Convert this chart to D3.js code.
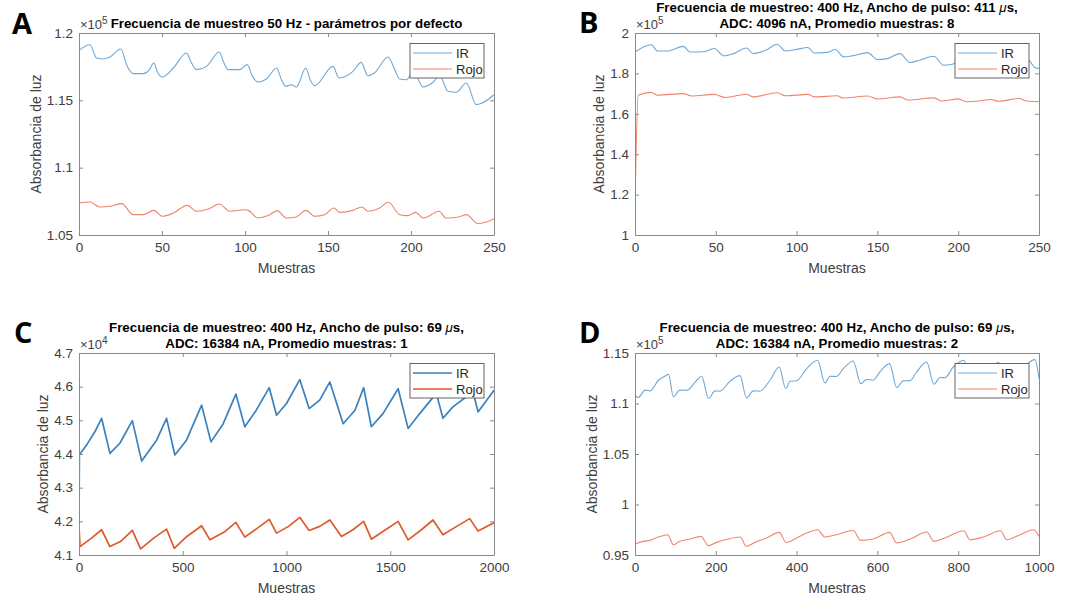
<!DOCTYPE html>
<html>
<head>
<meta charset="utf-8">
<script src="https://cdn.jsdelivr.net/npm/d3@7"></script>
<style>
  body { margin: 0; background: #fff; }
  text { font-family: "Liberation Sans", Arial, sans-serif; }
</style>
</head>
<body>
<svg id="fig" width="1077" height="598"></svg>
<script>
// ---- data (sample, value in units of the exponent) ----

// A: 50 Hz, default parameters
var irA = [[0,1.1871],[6.6,1.1913],[10.6,1.1814],[14.6,1.1807],[18.7,1.1822],[25.1,1.1881],[29.1,1.1752],
  [32.7,1.1698],[38.7,1.1698],[42.1,1.1723],[45.1,1.1777],[47.1,1.1715],[50.2,1.1673],[56.8,1.174],
  [64.8,1.1851],[67.8,1.1777],[70.8,1.1728],[76.8,1.1752],[84.5,1.1859],[86.9,1.1790],[89.9,1.1728],
  [96.9,1.1728],[101.3,1.1765],[104.5,1.1678],[107.9,1.1636],[112.9,1.1658],[119,1.174],[122,1.1653],
  [124.6,1.1604],[128,1.1616],[131,1.1599],[136.6,1.174],[139.4,1.1650],[142,1.1609],[153,1.1752],
  [156.6,1.1666],[165,1.1715],[170,1.1782],[174,1.1683],[178,1.1703],[186.2,1.1822],[190.2,1.1728],
  [193.2,1.1658],[197.2,1.1653],[201.8,1.1723],[204.9,1.1641],[207.3,1.1599],[213.3,1.1634],
  [217.3,1.1683],[222.3,1.1567],[227.3,1.156],[233.3,1.1629],[239.4,1.1468],[250,1.1542]];
var redA = [[0,1.0738],[6.6,1.0745],[12.6,1.0708],[18.7,1.0713],[25.7,1.0733],[32.7,1.0651],[38.7,1.0651],
  [45.1,1.0683],[50.2,1.0639],[56.8,1.0663],[65.2,1.072],[70.8,1.0676],[77.9,1.0693],[84.5,1.073],
  [90.9,1.0676],[100,1.0688],[102,1.0683],[107.9,1.0626],[114,1.0644],[119.4,1.0681],[125,1.0626],
  [131,1.0634],[136.6,1.0683],[142,1.0639],[148,1.0650],[153.5,1.07],[157,1.0668],[165,1.0683],
  [170.5,1.0708],[174,1.0676],[181,1.0700],[186.4,1.0743],[193.2,1.0651],[198,1.0644],[202.8,1.0668],
  [207.3,1.0626],[217,1.0676],[221,1.0626],[229,1.0634],[233.3,1.0651],[240.4,1.0584],[250,1.0619]];

// B: 400 Hz, 411 us, 4096 nA, avg 8
var irB = [[0,1.906],[10,1.942],[14,1.911],[20,1.911],[30,1.934],[34,1.906],[42,1.907],[49,1.923],
  [55,1.887],[61,1.898],[69,1.926],[73,1.898],[81,1.915],[88,1.944],[93,1.911],[100,1.919],[107,1.928],
  [111,1.901],[119,1.904],[124,1.918],[129,1.882],[135,1.888],[144,1.903],[150,1.868],[156,1.873],
  [164,1.898],[170,1.854],[176,1.865],[185,1.885],[191,1.84],[196,1.844],[204,1.878],[210,1.842],
  [216,1.850],[224,1.875],[229,1.838],[235,1.845],[243,1.868],[247.5,1.829],[250,1.824]];
var redB = [[0,1.155],[2,1.692],[10,1.706],[14,1.692],[30,1.70],[35,1.688],[49,1.696],[56,1.681],
  [69,1.697],[73,1.684],[88,1.704],[93,1.689],[107,1.696],[111,1.684],[125,1.689],[129,1.678],
  [144,1.688],[150,1.673],[164,1.684],[169,1.668],[185,1.679],[190,1.663],[200,1.674],[205,1.66],
  [213,1.663],[220,1.671],[225,1.662],[238,1.676],[242,1.663],[250,1.66]];

// C: 400 Hz, 69 us, 16384 nA, avg 1
var irC = [[0,4.20],[2,4.40],[5,4.40],[40,4.43],[80,4.47],[109,4.506],[149,4.402],[197,4.432],[257,4.499],
  [302,4.379],[374,4.441],[422,4.506],[462,4.397],[518,4.441],[591,4.545],[636,4.436],[695,4.49],
  [756,4.578],[799,4.481],[855,4.531],[917,4.597],[952,4.515],[1000,4.55],[1064,4.621],[1109,4.535],
  [1160,4.56],[1209,4.614],[1273,4.49],[1330,4.53],[1372,4.597],[1409,4.481],[1465,4.52],[1538,4.594],
  [1586,4.476],[1642,4.52],[1722,4.58],[1754,4.506],[1802,4.54],[1899,4.585],[1923,4.525],[2000,4.589]];
var redC = [[0,4.185],[5,4.125],[60,4.150],[109,4.175],[149,4.125],[200,4.140],[257,4.173],[297,4.118],
  [360,4.150],[422,4.177],[459,4.12],[520,4.155],[591,4.187],[631,4.145],[700,4.168],[756,4.197],
  [799,4.153],[860,4.180],[917,4.206],[952,4.165],[1010,4.185],[1064,4.212],[1109,4.173],[1160,4.185],
  [1209,4.204],[1265,4.155],[1320,4.175],[1372,4.2],[1409,4.147],[1470,4.172],[1538,4.2],[1586,4.145],
  [1650,4.175],[1706,4.204],[1754,4.16],[1820,4.185],[1883,4.208],[1923,4.171],[2000,4.196]];

// D: 400 Hz, 69 us, 16384 nA, avg 2
var irD = [[2,1.1076],[8,1.1059],[25,1.1132],[37,1.1125],[58,1.123],[78,1.128],[83,1.129],[95,1.1066],
  [111,1.1132],[128,1.1130],[153,1.123],[165,1.127],[182,1.105],[198,1.1125],[210,1.1122],[235,1.122],
  [260,1.1276],[276,1.1056],[293,1.1125],[309,1.1122],[334,1.123],[357,1.1362],[373,1.1148],
  [384,1.122],[400,1.1225],[425,1.1345],[452,1.1428],[470,1.1204],[483,1.127],[499,1.1268],
  [516,1.1345],[540,1.1421],[559,1.1197],[573,1.1237],[590,1.1232],[606,1.1312],[630,1.1395],
  [648,1.1158],[664,1.1224],[681,1.1226],[697,1.1312],[722,1.1411],[740,1.1191],[755,1.1257],
  [767,1.1255],[788,1.1362],[814,1.1428],[832,1.1195],[850,1.1250],[875,1.1340],[900,1.1405],
  [918,1.1200],[940,1.1260],[965,1.1370],[990,1.1434],[1000,1.1247]];
var redD = [[2,0.9612],[21,0.9635],[37,0.9645],[58,0.9678],[81,0.9701],[95,0.9602],[111,0.9635],
  [136,0.9658],[163,0.9684],[182,0.9592],[202,0.9625],[231,0.9658],[260,0.9678],[276,0.9586],
  [297,0.9625],[326,0.9668],[357,0.9724],[374,0.9625],[400,0.9668],[425,0.9717],[452,0.975],
  [470,0.9678],[499,0.9701],[540,0.9743],[559,0.9645],[590,0.9658],[630,0.9724],[648,0.9619],
  [681,0.9658],[722,0.9727],[740,0.9635],[767,0.9668],[814,0.974],[829,0.9651],[862,0.9678],
  [905,0.974],[920,0.9651],[953,0.9701],[986,0.975],[1000,0.9684]];

// tick values
var xTicksA = [0, 50, 100, 150, 200, 250];
var yTicksA = [1.05, 1.1, 1.15, 1.2];
var xTicksB = [0, 50, 100, 150, 200, 250];
var yTicksB = [1, 1.2, 1.4, 1.6, 1.8, 2];
var xTicksC = [0, 500, 1000, 1500, 2000];
var yTicksC = [4.1, 4.2, 4.3, 4.4, 4.5, 4.6, 4.7];
var xTicksD = [0, 200, 400, 600, 800, 1000];
var yTicksD = [0.95, 1, 1.05, 1.1, 1.15];

var titleA = [["Frecuencia de muestreo 50 Hz - parámetros por defecto"]];
var titleB = [["Frecuencia de muestreo: 400 Hz, Ancho de pulso: 411 ", "μ", "s,"], ["ADC: 4096 nA, Promedio muestras: 8"]];
var titleC = [["Frecuencia de muestreo: 400 Hz, Ancho de pulso: 69 ", "μ", "s,"], ["ADC: 16384 nA, Promedio muestras: 1"]];
var titleD = [["Frecuencia de muestreo: 400 Hz, Ancho de pulso: 69 ", "μ", "s,"], ["ADC: 16384 nA, Promedio muestras: 2"]];

var seriesNames = ["IR", "Rojo"];

// ---- layout ----
var panels = [
  {letter: "A", lx: 12, ly: 34, x0: 79, x1: 494, y0: 33, y1: 235, xDom: [0, 250], yDom: [1.05, 1.2],
   xTicks: xTicksA, yTicks: yTicksA, exp: "5", title: titleA, titleY: [28], ylabOff: 38,
   ir: irA, red: redA, irColor: "#6ea8d8", redColor: "#f0846b", sw: 1.1, curve: d3.curveMonotoneX},
  {letter: "B", lx: 579, ly: 33, x0: 635, x1: 1039, y0: 33, y1: 235, xDom: [0, 250], yDom: [1, 2],
   xTicks: xTicksB, yTicks: yTicksB, exp: "5", title: titleB, titleY: [11.5, 28], ylabOff: 31,
   ir: irB, red: redB, irColor: "#6ea8d8", redColor: "#f0846b", sw: 1.1, curve: d3.curveMonotoneX},
  {letter: "C", lx: 14, ly: 343, x0: 79, x1: 494, y0: 353, y1: 555, xDom: [0, 2000], yDom: [4.1, 4.7],
   xTicks: xTicksC, yTicks: yTicksC, exp: "4", title: titleC, titleY: [331.5, 348], ylabOff: 31,
   ir: irC, red: redC, irColor: "#3a81be", redColor: "#de5a2a", sw: 1.7, curve: d3.curveLinear},
  {letter: "D", lx: 579, ly: 343, x0: 635, x1: 1039, y0: 353, y1: 555, xDom: [0, 1000], yDom: [0.95, 1.15],
   xTicks: xTicksD, yTicks: yTicksD, exp: "5", title: titleD, titleY: [331.5, 348], ylabOff: 38,
   ir: irD, red: redD, irColor: "#6ea8d8", redColor: "#f0846b", sw: 1.1, curve: d3.curveMonotoneX}
];

var svg = d3.select("#fig");
var fmt = d3.format("~g");

panels.forEach(function(p, i) {
  var x = d3.scaleLinear().domain(p.xDom).range([p.x0, p.x1]);
  var y = d3.scaleLinear().domain(p.yDom).range([p.y1, p.y0]);
  var g = svg.append("g");

  // clip for the data lines
  svg.append("clipPath").attr("id", "clip" + i)
    .append("rect").attr("x", p.x0).attr("y", p.y0)
    .attr("width", p.x1 - p.x0).attr("height", p.y1 - p.y0);

  var line = d3.line().curve(p.curve).x(d => x(d[0])).y(d => y(d[1]));
  g.append("path").datum(p.ir).attr("d", line)
    .attr("fill", "none").attr("stroke", p.irColor).attr("stroke-width", p.sw)
    .attr("stroke-linejoin", "round").attr("clip-path", "url(#clip" + i + ")");
  g.append("path").datum(p.red).attr("d", line)
    .attr("fill", "none").attr("stroke", p.redColor).attr("stroke-width", p.sw)
    .attr("stroke-linejoin", "round").attr("clip-path", "url(#clip" + i + ")");

  // axes, ticks pointing inward on all four sides
  var bottom = g.append("g").attr("transform", `translate(0,${p.y1})`)
    .call(d3.axisBottom(x).tickValues(p.xTicks).tickFormat(fmt).tickSizeInner(-4).tickSizeOuter(0).tickPadding(7));
  var top = g.append("g").attr("transform", `translate(0,${p.y0})`)
    .call(d3.axisTop(x).tickValues(p.xTicks).tickFormat("").tickSizeInner(-4).tickSizeOuter(0));
  var left = g.append("g").attr("transform", `translate(${p.x0},0)`)
    .call(d3.axisLeft(y).tickValues(p.yTicks).tickFormat(fmt).tickSizeInner(-4).tickSizeOuter(0).tickPadding(6));
  var right = g.append("g").attr("transform", `translate(${p.x1},0)`)
    .call(d3.axisRight(y).tickValues(p.yTicks).tickFormat("").tickSizeInner(-4).tickSizeOuter(0));

  [bottom, top, left, right].forEach(function(a) {
    a.select(".domain").attr("stroke", "#8a8a8a").attr("stroke-width", 1);
    a.selectAll(".tick line").attr("stroke", "#8a8a8a");
    a.selectAll("text").attr("fill", "#404040").style("font-size", "13.5px")
      .style("font-family", '"Liberation Sans", Arial, sans-serif');
  });

  // exponent label
  var ex = g.append("text").attr("x", p.x0 + 1).attr("y", p.y0 - 4)
    .attr("fill", "#404040").style("font-size", "13px");
  ex.append("tspan").text("×10");
  ex.append("tspan").attr("dy", -5).style("font-size", "10px").text(p.exp);

  // axis labels
  g.append("text")
    .attr("x", (p.x0 + p.x1) / 2).attr("y", p.y1 + 38)
    .attr("text-anchor", "middle").attr("fill", "#404040").style("font-size", "14px")
    .text("Muestras");
  g.append("text")
    .attr("transform", `translate(${p.x0 - p.ylabOff},${(p.y0 + p.y1) / 2}) rotate(-90)`)
    .attr("text-anchor", "middle").attr("fill", "#404040").style("font-size", "14px")
    .text("Absorbancia de luz");

  // title
  p.title.forEach(function(parts, k) {
    var t = g.append("text").attr("x", (p.x0 + p.x1) / 2).attr("y", p.titleY[k])
      .attr("text-anchor", "middle").attr("fill", "#000")
      .style("font-size", "13.3px").style("font-weight", "bold");
    parts.forEach(function(s) {
      var ts = t.append("tspan").text(s);
      if (s === "μ") ts.style("font-weight", "normal").style("font-style", "italic");
    });
  });

  // panel letter
  svg.append("text").attr("x", p.lx).attr("y", p.ly)
    .style("font-family", '"Open Sans", sans-serif').style("font-weight", "bold")
    .style("font-size", "29px").attr("fill", "#000").text(p.letter);

  // legend
  var lgX = p.x1 - 84, lgY = p.y0 + 10.5;
  var lg = g.append("g").attr("transform", `translate(${lgX},${lgY})`);
  lg.append("rect").attr("width", 74).attr("height", 34.5)
    .attr("fill", "#fff").attr("stroke", "#555").attr("stroke-width", 0.9);
  [p.irColor, p.redColor].forEach(function(c, k) {
    var yy = 9.5 + k * 16;
    lg.append("line").attr("x1", 3).attr("x2", 42).attr("y1", yy).attr("y2", yy)
      .attr("stroke", c).attr("stroke-width", Math.min(p.sw, 1.3));
    lg.append("text").attr("x", 46).attr("y", yy + 4.5).attr("fill", "#262626")
      .style("font-size", "13px").text(seriesNames[k]);
  });
});
</script>
</body>
</html>
